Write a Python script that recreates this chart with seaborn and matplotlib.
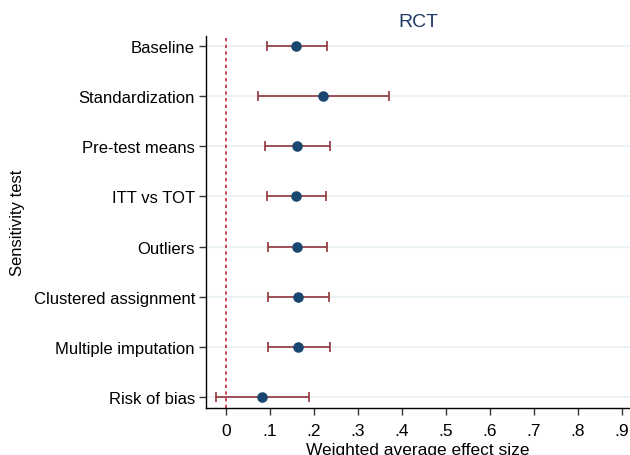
import numpy as np
import pandas as pd
import matplotlib
matplotlib.use("Agg")
import matplotlib.pyplot as plt
import seaborn as sns

tests = ["Baseline", "Standardization", "Pre-test means", "ITT vs TOT",
         "Outliers", "Clustered assignment", "Multiple imputation", "Risk of bias"]
effect = [0.159, 0.220, 0.162, 0.159, 0.162, 0.164, 0.164, 0.083]
ci_low = [0.093, 0.073, 0.090, 0.0925, 0.095, 0.096, 0.095, -0.022]
ci_high = [0.229, 0.370, 0.237, 0.227, 0.230, 0.234, 0.236, 0.188]
xticks = [0, .1, .2, .3, .4, .5, .6, .7, .8, .9]
xtick_labels = ["0", ".1", ".2", ".3", ".4", ".5", ".6", ".7", ".8", ".9"]

sns.set_theme(style="white")
plt.rcParams["font.family"] = ["Liberation Sans", "DejaVu Sans"]

df = pd.DataFrame({"test": tests, "effect": effect, "lo": ci_low, "hi": ci_high})

fig = plt.figure(figsize=(6.3, 4.56), dpi=100)
ax = fig.add_axes([206/630, 1 - 409/456, 1 - 206/630, (409 - 37)/456])

ypos = np.arange(len(tests))
for y in ypos:
    ax.axhline(y, color="#eaf2f3", lw=1.5, zorder=0)

ax.axvline(0, color="#c0283c", lw=1.2, ls=(0, (2, 2)), zorder=1)

ax.errorbar(df["effect"], ypos,
            xerr=[df["effect"] - df["lo"], df["hi"] - df["effect"]],
            fmt="none", ecolor="#90353b", elinewidth=1.2, capsize=3.6,
            capthick=1.2, zorder=2)

sns.scatterplot(data=df, x="effect", y="test", ax=ax, color="#1a476f",
                s=58, edgecolor="#1a476f", linewidth=0, zorder=3, legend=False)

ax.set_xlim(-0.045, 0.918)
ax.set_ylim(len(tests) - 1 + 0.22, -0.2)
ax.set_yticks(ypos)
ax.set_yticklabels(tests, fontsize=12, color="black")
ax.set_xticks(xticks)
ax.set_xticklabels(xtick_labels, fontsize=12.5, color="black")
ax.tick_params(axis="y", direction="out", length=5, width=1, color="#333333",
               left=True, pad=3)
ax.tick_params(axis="x", direction="out", length=5, width=1, color="#333333",
               bottom=True, pad=6)

for side in ["top", "right"]:
    ax.spines[side].set_visible(False)
for side in ["left", "bottom"]:
    ax.spines[side].set_color("black")
    ax.spines[side].set_linewidth(1.0)

ax.set_xlabel("Weighted average effect size", fontsize=12.5, color="black", labelpad=3)
ax.set_ylabel("Sensitivity test", fontsize=12, color="black", labelpad=6)
ax.set_title("RCT", fontsize=14, color="#1f3a66", pad=7)

fig.savefig("out.png", dpi=100)
